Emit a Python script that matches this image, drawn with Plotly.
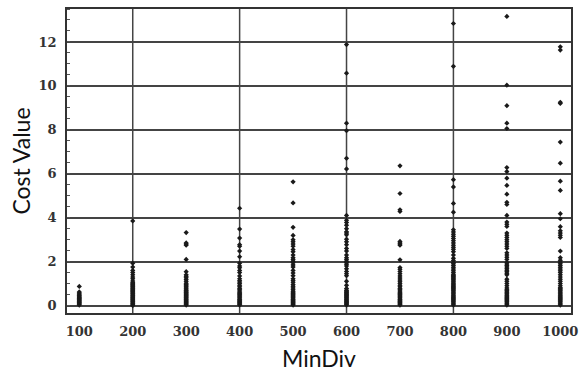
import plotly.graph_objects as go

min_div = [100, 200, 300, 400, 500, 600, 700, 800, 900, 1000]

v100 = [0.02, 0.06, 0.1, 0.13, 0.16, 0.2, 0.23, 0.26, 0.3, 0.33, 0.36, 0.4, 0.44, 0.48, 0.52, 0.57, 0.62, 0.87]
v200 = [0.0, 0.04, 0.08, 0.12, 0.16, 0.2, 0.24, 0.28, 0.32, 0.36, 0.4, 0.44, 0.48, 0.52, 0.56, 0.6, 0.64, 0.68,
        0.72, 0.76, 0.8, 0.84, 0.88, 0.92, 0.96, 1.0, 1.05, 1.12, 1.22, 1.3, 1.4, 1.5, 1.6, 1.75, 1.93, 3.85]
v300 = [0.02, 0.06, 0.1, 0.14, 0.18, 0.22, 0.26, 0.3, 0.34, 0.38, 0.42, 0.46, 0.5, 0.54, 0.58, 0.62, 0.66, 0.7,
        0.75, 0.8, 0.85, 0.9, 0.96, 1.02, 1.1, 1.18, 1.26, 1.33, 1.4, 1.54, 2.1, 2.75, 2.8, 2.85, 3.32]
v400 = [0.02, 0.06, 0.1, 0.14, 0.18, 0.22, 0.26, 0.3, 0.35, 0.4, 0.45, 0.5, 0.55, 0.6, 0.66, 0.72, 0.78, 0.85,
        0.92, 1.0, 1.07, 1.14, 1.22, 1.35, 1.5, 1.6, 1.72, 1.8, 1.93, 2.22, 2.48, 2.7, 2.77, 3.07, 3.48, 4.43]
v500 = [0.02, 0.06, 0.1, 0.14, 0.18, 0.22, 0.26, 0.3, 0.35, 0.4, 0.45, 0.5, 0.55, 0.6, 0.65, 0.72, 0.8, 0.88,
        0.96, 1.06, 1.14, 1.22, 1.36, 1.48, 1.6, 1.75, 1.85, 1.95, 2.02, 2.1, 2.18, 2.3, 2.45, 2.55, 2.7, 2.8,
        2.9, 3.0, 3.19, 3.56, 4.67, 5.63]
v600 = [0.02, 0.06, 0.1, 0.14, 0.18, 0.22, 0.26, 0.3, 0.34, 0.38, 0.42, 0.46, 0.5, 0.54, 0.58, 0.62, 0.66, 0.7,
        0.77, 0.92, 1.1, 1.36, 1.45, 1.55, 1.67, 1.8, 1.88, 1.95, 2.02, 2.1, 2.18, 2.3, 2.48, 2.6, 2.77, 2.9,
        3.02, 3.22, 3.3, 3.36, 3.5, 3.66, 3.78, 3.88, 4.1, 6.22, 6.7, 7.96, 8.3, 10.58, 11.88]
v700 = [0.02, 0.06, 0.1, 0.14, 0.18, 0.22, 0.26, 0.3, 0.35, 0.4, 0.45, 0.5, 0.55, 0.6, 0.66, 0.72, 0.78, 0.85,
        0.92, 1.0, 1.08, 1.16, 1.25, 1.35, 1.45, 1.55, 1.65, 1.73, 2.08, 2.75, 2.8, 2.85, 2.92, 4.28, 4.36, 5.1, 6.36]
v800 = [0.02, 0.07, 0.12, 0.17, 0.22, 0.27, 0.32, 0.37, 0.42, 0.47, 0.52, 0.57, 0.62, 0.67, 0.72, 0.77, 0.82,
        0.87, 0.92, 0.97, 1.02, 1.07, 1.12, 1.17, 1.22, 1.27, 1.32, 1.37, 1.42, 1.5, 1.58, 1.66, 1.74, 1.82, 1.9,
        1.96, 2.05, 2.15, 2.3, 2.45, 2.56, 2.65, 2.75, 2.85, 2.95, 3.05, 3.15, 3.25, 3.35, 3.45, 4.25, 4.65, 5.4,
        5.73, 10.89, 12.84]
v900 = [0.02, 0.07, 0.12, 0.17, 0.22, 0.27, 0.32, 0.37, 0.42, 0.47, 0.52, 0.57, 0.62, 0.67, 0.72, 0.8, 0.9, 1.0,
        1.1, 1.2, 1.4, 1.47, 1.54, 1.61, 1.68, 1.75, 1.82, 1.89, 1.96, 2.1, 2.2, 2.3, 2.4, 2.6, 2.7, 2.8, 2.9, 3.0,
        3.1, 3.2, 3.3, 3.6, 3.7, 3.8, 4.1, 4.6, 4.7, 5.07, 5.47, 5.8, 6.1, 6.28, 8.06, 8.3, 9.1, 10.03, 13.16]
v1000 = [0.02, 0.07, 0.12, 0.17, 0.22, 0.27, 0.32, 0.37, 0.42, 0.47, 0.52, 0.57, 0.62, 0.67, 0.72, 0.77, 0.82,
         0.9, 1.0, 1.1, 1.2, 1.3, 1.4, 1.5, 1.58, 1.66, 1.74, 1.82, 1.9, 1.98, 2.06, 2.18, 2.48, 3.1, 3.2, 3.3,
         3.4, 3.59, 3.95, 4.18, 5.24, 5.66, 6.48, 7.44, 9.2, 9.25, 11.63, 11.78]

columns = [v100, v200, v300, v400, v500, v600, v700, v800, v900, v1000]

x_ticks = min_div
x_ticktext = ["<b>%d</b>" % v for v in x_ticks]
y_ticks = [0, 2, 4, 6, 8, 10, 12]
y_ticktext = ["<b>%d</b>" % v for v in y_ticks]
x_grid = [200, 400, 600, 800]

xs, ys = [], []
for md, vals in zip(min_div, columns):
    xs += [md] * len(vals)
    ys += vals

fig = go.Figure()
fig.add_trace(go.Scatter(
    x=xs, y=ys, mode="markers",
    marker=dict(symbol="diamond", size=4, color="#1a1a1a"),
    showlegend=False, hoverinfo="skip",
))

for g in x_grid:
    fig.add_shape(type="line", xref="x", yref="paper", x0=g, x1=g, y0=0, y1=1,
                  line=dict(color="#444444", width=1.5), layer="below")

tick_font = dict(family="DejaVu Serif", size=13, color="#333333")

fig.update_layout(
    width=585, height=375,
    margin=dict(l=67, r=11, t=7, b=57),
    paper_bgcolor="white", plot_bgcolor="white",
    xaxis=dict(
        range=[77, 1020], tickvals=x_ticks, ticktext=x_ticktext, tickfont=tick_font,
        showgrid=False, zeroline=False, showline=True, mirror=True,
        linecolor="#333333", linewidth=1.5, ticks="", ticklabelstandoff=6,
        title=dict(text="MinDiv", font=dict(family="Lato", size=23, color="#111111"), standoff=13),
    ),
    yaxis=dict(
        range=[-0.34, 13.5], tickvals=y_ticks, ticktext=y_ticktext, tickfont=tick_font,
        showgrid=True, gridcolor="#444444", gridwidth=1.5, zeroline=False,
        showline=True, mirror=True, linecolor="#333333", linewidth=1.5, ticks="",
        ticklabelstandoff=6,
        minor=dict(tick0=0, dtick=0.5, ticks="inside", ticklen=3, tickcolor="#555555", showgrid=False),
        title=dict(text="Cost Value", font=dict(family="Lato", size=23, color="#111111"), standoff=2),
    ),
)

fig.write_html("out.html")
